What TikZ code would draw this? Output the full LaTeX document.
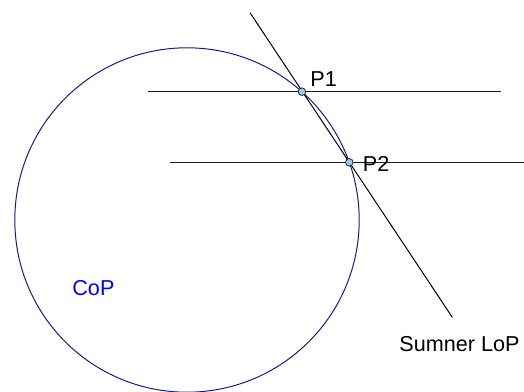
\documentclass[tikz,border=0pt]{standalone}
\usepackage{fontspec}
\setmainfont{Liberation Sans}
\usepackage{tikz}
\usetikzlibrary{positioning, calc}
\definecolor{copblue}{RGB}{25,25,140}
\definecolor{labelblue}{RGB}{0,0,255}
\definecolor{ptfill}{RGB}{160,200,230}
\definecolor{mydark}{RGB}{30,30,30}
\tikzset{
  copcircle/.style={draw=copblue, line width=0.5pt},
  lopline/.style={draw=black, line width=0.5pt},
  latline/.style={draw=mydark, line width=0.5pt},
  ptdot/.style={circle, draw=black!85, fill=ptfill, inner sep=0pt,
    minimum size=3.8pt, line width=0.4pt},
  lbl/.style={font=\fontsize{10.8}{13}\selectfont, inner sep=0pt, anchor=base west}
}

\begin{document}
\begin{tikzpicture}[x=0.5pt, y=-0.5pt]
  \useasboundingbox (0,0) rectangle (524,391);

  \coordinate (copc) at (187,220);
  \draw[copcircle] (copc) circle[radius=172.2];

  \coordinate (lat1w) at (148,91.7);
  \coordinate (lat1e) at (501,91.7);
  \coordinate (lat2w) at (170.3,162.3);
  \coordinate (lat2e) at (524,162.3);
  \coordinate (lopN) at (250,12.7);
  \coordinate (lopS) at (452.3,317.3);

  \draw[latline] (lat1w) -- (lat1e);
  \draw[latline] (lat2w) -- (lat2e);
  \draw[lopline] (lopN) -- (lopS);

  \node[ptdot] (P1) at (302,91.7) {};
  \node[ptdot] (P2) at (349.3,162.3) {};

  \node[lbl] (p1lbl) at (310,86.7) {P1};
  \node[lbl] (p2lbl) at (362.5,171.5) {P2};
  \node[lbl, text=labelblue] (coplbl) at (72,295) {CoP};
  \node[lbl] (loplbl) at (399,351.7) {Sumner LoP};
\end{tikzpicture}
\end{document}
